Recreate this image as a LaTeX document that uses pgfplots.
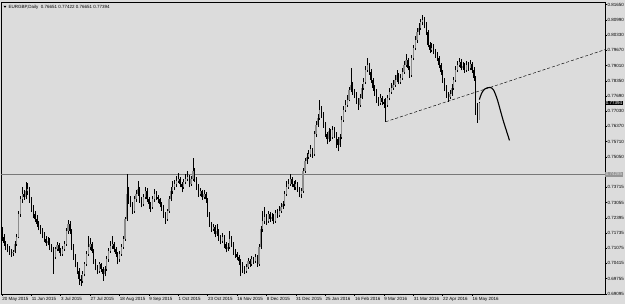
\documentclass[border=0pt]{standalone}
\usepackage{fontspec}
\setmainfont{Liberation Sans}
\usepackage{pgfplots}
\usepackage{pgfplotstable}
\pgfplotsset{compat=1.18}
\definecolor{bggray}{RGB}{220,220,220}
\definecolor{bullgray}{RGB}{140,140,140}
\definecolor{lvlgray}{RGB}{120,120,120}
\definecolor{boxgray}{RGB}{150,150,150}
\newcommand{\tinyfont}{\fontsize{4.5}{5}\selectfont}
\pgfplotstableread{
i o h l c
0 0.7170 0.7199 0.7140 0.7156
1 0.7156 0.7168 0.7118 0.7130
2 0.7130 0.7141 0.7100 0.7113
3 0.7113 0.7125 0.7090 0.7104
4 0.7104 0.7118 0.7080 0.7096
5 0.7096 0.7106 0.7070 0.7087
6 0.7087 0.7102 0.7074 0.7091
7 0.7091 0.7138 0.7085 0.7126
8 0.7126 0.7170 0.7118 0.7156
9 0.7156 0.7268 0.7150 0.7256
10 0.7256 0.7335 0.7245 0.7320
11 0.7320 0.7372 0.7305 0.7342
12 0.7342 0.7360 0.7318 0.7329
13 0.7329 0.7394 0.7320 0.7355
14 0.7355 0.7390 0.7340 0.7364
15 0.7364 0.7375 0.7305 0.7320
16 0.7320 0.7330 0.7265 0.7277
17 0.7277 0.7295 0.7240 0.7256
18 0.7256 0.7268 0.7222 0.7234
19 0.7234 0.7250 0.7200 0.7212
20 0.7212 0.7228 0.7185 0.7199
21 0.7199 0.7210 0.7168 0.7182
22 0.7182 0.7195 0.7150 0.7165
23 0.7165 0.7180 0.7135 0.7147
24 0.7147 0.7160 0.7118 0.7130
25 0.7130 0.7158 0.7120 0.7139
26 0.7139 0.7150 0.7100 0.7113
27 0.7113 0.7125 0.7090 0.7104
28 0.7104 0.7115 0.6996 0.7070
29 0.7070 0.7115 0.7060 0.7104
30 0.7104 0.7135 0.7095 0.7121
31 0.7121 0.7130 0.7085 0.7096
32 0.7096 0.7108 0.7072 0.7083
33 0.7083 0.7118 0.7075 0.7104
34 0.7104 0.7140 0.7095 0.7126
35 0.7126 0.7195 0.7118 0.7182
36 0.7182 0.7232 0.7170 0.7212
37 0.7212 0.7225 0.7170 0.7182
38 0.7182 0.7190 0.7100 0.7113
39 0.7113 0.7125 0.7058 0.7070
40 0.7070 0.7082 0.7025 0.7039
41 0.7039 0.7050 0.6995 0.7009
42 0.7009 0.7020 0.6950 0.6974
43 0.6974 0.6990 0.6944 0.6966
44 0.6966 0.7008 0.6955 0.6996
45 0.6996 0.7050 0.6985 0.7039
46 0.7039 0.7095 0.7030 0.7083
47 0.7083 0.7160 0.7075 0.7113
48 0.7113 0.7150 0.7100 0.7126
49 0.7126 0.7135 0.7085 0.7096
50 0.7096 0.7105 0.7040 0.7052
51 0.7052 0.7060 0.7012 0.7026
52 0.7026 0.7035 0.6995 0.7009
53 0.7009 0.7050 0.7000 0.7039
54 0.7039 0.7045 0.7005 0.7018
55 0.7018 0.7025 0.6966 0.6996
56 0.6996 0.7030 0.6985 0.7018
57 0.7018 0.7072 0.7010 0.7061
58 0.7061 0.7110 0.7050 0.7096
59 0.7096 0.7140 0.7088 0.7117
60 0.7117 0.7160 0.7105 0.7126
61 0.7126 0.7135 0.7090 0.7104
62 0.7104 0.7112 0.7070 0.7083
63 0.7083 0.7090 0.7039 0.7061
64 0.7061 0.7095 0.7050 0.7083
65 0.7083 0.7125 0.7075 0.7113
66 0.7113 0.7160 0.7105 0.7147
67 0.7147 0.7245 0.7140 0.7234
68 0.7234 0.7429 0.7225 0.7342
69 0.7342 0.7372 0.7300 0.7320
70 0.7320 0.7335 0.7285 0.7299
71 0.7299 0.7310 0.7256 0.7269
72 0.7269 0.7335 0.7262 0.7320
73 0.7320 0.7360 0.7310 0.7342
74 0.7342 0.7398 0.7335 0.7364
75 0.7364 0.7375 0.7305 0.7320
76 0.7320 0.7330 0.7285 0.7299
77 0.7299 0.7345 0.7290 0.7329
78 0.7329 0.7375 0.7320 0.7355
79 0.7355 0.7368 0.7308 0.7320
80 0.7320 0.7330 0.7280 0.7299
81 0.7299 0.7310 0.7265 0.7286
82 0.7286 0.7335 0.7278 0.7320
83 0.7320 0.7364 0.7310 0.7342
84 0.7342 0.7355 0.7315 0.7329
85 0.7329 0.7340 0.7305 0.7320
86 0.7320 0.7328 0.7285 0.7299
87 0.7299 0.7310 0.7270 0.7286
88 0.7286 0.7295 0.7240 0.7256
89 0.7256 0.7265 0.7215 0.7234
90 0.7234 0.7280 0.7228 0.7269
91 0.7269 0.7335 0.7262 0.7320
92 0.7320 0.7372 0.7312 0.7355
93 0.7355 0.7398 0.7345 0.7372
94 0.7372 0.7405 0.7360 0.7385
95 0.7385 0.7420 0.7375 0.7398
96 0.7398 0.7433 0.7390 0.7407
97 0.7407 0.7418 0.7372 0.7385
98 0.7385 0.7395 0.7350 0.7372
99 0.7372 0.7410 0.7365 0.7394
100 0.7394 0.7430 0.7385 0.7407
101 0.7407 0.7442 0.7398 0.7416
102 0.7416 0.7425 0.7372 0.7385
103 0.7385 0.7420 0.7378 0.7407
104 0.7407 0.7498 0.7400 0.7442
105 0.7442 0.7455 0.7395 0.7407
106 0.7407 0.7415 0.7360 0.7372
107 0.7372 0.7385 0.7330 0.7342
108 0.7342 0.7370 0.7335 0.7355
109 0.7355 0.7362 0.7318 0.7329
110 0.7329 0.7360 0.7320 0.7342
111 0.7342 0.7350 0.7305 0.7320
112 0.7320 0.7328 0.7245 0.7256
113 0.7256 0.7265 0.7200 0.7212
114 0.7212 0.7222 0.7178 0.7191
115 0.7191 0.7215 0.7182 0.7199
116 0.7199 0.7210 0.7155 0.7169
117 0.7169 0.7212 0.7160 0.7182
118 0.7182 0.7190 0.7140 0.7156
119 0.7156 0.7165 0.7125 0.7139
120 0.7139 0.7175 0.7130 0.7156
121 0.7156 0.7165 0.7110 0.7126
122 0.7126 0.7135 0.7090 0.7104
123 0.7104 0.7130 0.7095 0.7113
124 0.7113 0.7182 0.7105 0.7147
125 0.7147 0.7160 0.7112 0.7126
126 0.7126 0.7135 0.7080 0.7096
127 0.7096 0.7105 0.7065 0.7083
128 0.7083 0.7092 0.7055 0.7070
129 0.7070 0.7080 0.7035 0.7052
130 0.7052 0.7060 0.6987 0.7039
131 0.7039 0.7048 0.7000 0.7018
132 0.7018 0.7030 0.6995 0.7009
133 0.7009 0.7040 0.7000 0.7026
134 0.7026 0.7065 0.7018 0.7052
135 0.7052 0.7060 0.7028 0.7039
136 0.7039 0.7075 0.7030 0.7061
137 0.7061 0.7070 0.7040 0.7052
138 0.7052 0.7083 0.7045 0.7070
139 0.7070 0.7078 0.7028 0.7039
140 0.7039 0.7125 0.7030 0.7113
141 0.7113 0.7205 0.7105 0.7191
142 0.7191 0.7270 0.7180 0.7225
143 0.7225 0.7286 0.7215 0.7243
144 0.7243 0.7255 0.7210 0.7225
145 0.7225 0.7270 0.7218 0.7256
146 0.7256 0.7265 0.7222 0.7234
147 0.7234 0.7262 0.7225 0.7243
148 0.7243 0.7255 0.7212 0.7225
149 0.7225 0.7275 0.7218 0.7260
150 0.7260 0.7280 0.7240 0.7251
151 0.7251 0.7290 0.7245 0.7269
152 0.7269 0.7305 0.7260 0.7286
153 0.7286 0.7312 0.7278 0.7299
154 0.7299 0.7355 0.7290 0.7342
155 0.7342 0.7400 0.7335 0.7372
156 0.7372 0.7410 0.7365 0.7385
157 0.7385 0.7429 0.7380 0.7407
158 0.7407 0.7418 0.7372 0.7385
159 0.7385 0.7398 0.7360 0.7372
160 0.7372 0.7405 0.7362 0.7385
161 0.7385 0.7395 0.7352 0.7364
162 0.7364 0.7372 0.7330 0.7342
163 0.7342 0.7368 0.7325 0.7355
164 0.7355 0.7455 0.7348 0.7442
165 0.7442 0.7500 0.7435 0.7485
166 0.7485 0.7520 0.7475 0.7502
167 0.7502 0.7535 0.7495 0.7515
168 0.7515 0.7558 0.7505 0.7537
169 0.7537 0.7545 0.7500 0.7515
170 0.7515 0.7615 0.7508 0.7602
171 0.7602 0.7660 0.7590 0.7645
172 0.7645 0.7690 0.7635 0.7675
173 0.7675 0.7753 0.7665 0.7710
174 0.7710 0.7725 0.7675 0.7688
175 0.7688 0.7698 0.7630 0.7645
176 0.7645 0.7655 0.7590 0.7602
177 0.7602 0.7612 0.7560 0.7580
178 0.7580 0.7628 0.7570 0.7615
179 0.7615 0.7625 0.7575 0.7589
180 0.7589 0.7640 0.7580 0.7623
181 0.7623 0.7635 0.7588 0.7602
182 0.7602 0.7612 0.7545 0.7580
183 0.7580 0.7590 0.7528 0.7558
184 0.7558 0.7602 0.7548 0.7589
185 0.7589 0.7680 0.7580 0.7666
186 0.7666 0.7725 0.7655 0.7710
187 0.7710 0.7750 0.7700 0.7731
188 0.7731 0.7775 0.7720 0.7753
189 0.7753 0.7810 0.7745 0.7796
190 0.7796 0.7891 0.7785 0.7818
191 0.7818 0.7830 0.7775 0.7788
192 0.7788 0.7800 0.7760 0.7775
193 0.7775 0.7785 0.7735 0.7753
194 0.7753 0.7762 0.7710 0.7731
195 0.7731 0.7778 0.7722 0.7762
196 0.7762 0.7820 0.7755 0.7805
197 0.7805 0.7848 0.7795 0.7831
198 0.7831 0.7900 0.7822 0.7883
199 0.7883 0.7935 0.7875 0.7904
200 0.7904 0.7912 0.7860 0.7874
201 0.7874 0.7885 0.7825 0.7839
202 0.7839 0.7848 0.7792 0.7805
203 0.7805 0.7815 0.7770 0.7788
204 0.7788 0.7798 0.7740 0.7753
205 0.7753 0.7765 0.7725 0.7740
206 0.7740 0.7778 0.7730 0.7762
207 0.7762 0.7770 0.7728 0.7744
208 0.7744 0.7755 0.7718 0.7736
209 0.7736 0.7762 0.7657 0.7731
210 0.7731 0.7775 0.7722 0.7762
211 0.7762 0.7805 0.7750 0.7788
212 0.7788 0.7825 0.7778 0.7805
213 0.7805 0.7840 0.7795 0.7818
214 0.7818 0.7858 0.7810 0.7839
215 0.7839 0.7880 0.7828 0.7861
216 0.7861 0.7870 0.7820 0.7831
217 0.7831 0.7865 0.7822 0.7848
218 0.7848 0.7890 0.7840 0.7874
219 0.7874 0.7920 0.7865 0.7904
220 0.7904 0.7950 0.7895 0.7926
221 0.7926 0.7935 0.7880 0.7891
222 0.7891 0.7900 0.7848 0.7861
223 0.7861 0.7948 0.7852 0.7935
224 0.7935 0.7992 0.7925 0.7978
225 0.7978 0.8028 0.7968 0.8012
226 0.8012 0.8062 0.8000 0.8047
227 0.8047 0.8085 0.8035 0.8064
228 0.8064 0.8105 0.8055 0.8090
229 0.8090 0.8121 0.8075 0.8099
230 0.8099 0.8110 0.8062 0.8077
231 0.8077 0.8088 0.8035 0.8047
232 0.8047 0.8055 0.7980 0.7991
233 0.7991 0.8002 0.7955 0.7969
234 0.7969 0.7998 0.7960 0.7978
235 0.7978 0.7995 0.7950 0.7961
236 0.7961 0.7972 0.7935 0.7948
237 0.7948 0.7958 0.7920 0.7935
238 0.7935 0.7942 0.7890 0.7904
239 0.7904 0.7912 0.7860 0.7874
240 0.7874 0.7882 0.7825 0.7839
241 0.7839 0.7848 0.7790 0.7805
242 0.7805 0.7815 0.7762 0.7775
243 0.7775 0.7785 0.7744 0.7766
244 0.7766 0.7795 0.7755 0.7779
245 0.7779 0.7820 0.7770 0.7805
246 0.7805 0.7852 0.7795 0.7839
247 0.7839 0.7898 0.7830 0.7883
248 0.7883 0.7920 0.7872 0.7904
249 0.7904 0.7935 0.7895 0.7917
250 0.7917 0.7928 0.7880 0.7891
251 0.7891 0.7918 0.7882 0.7900
252 0.7900 0.7910 0.7870 0.7883
253 0.7883 0.7922 0.7875 0.7904
254 0.7904 0.7915 0.7878 0.7891
255 0.7891 0.7925 0.7880 0.7909
256 0.7909 0.7918 0.7870 0.7883
257 0.7883 0.7895 0.7835 0.7848
258 0.7848 0.7855 0.7688 0.7705
259 0.7705 0.7740 0.7653 0.7665
260 0.76651 0.77422 0.76651 0.77394
}\candles
\begin{document}
\begin{tikzpicture}
\useasboundingbox (-1pt,-10pt) rectangle (624pt,294pt);
\fill[bggray] (-1pt,-10pt) rectangle (624pt,294pt);
\begin{axis}[
  at={(0,0)}, anchor=south west,
  scale only axis, width=604pt, height=292pt,
  xmin=-0.5, xmax=328.4, ymin=0.6909, ymax=0.8177,
  clip=false,
  axis line style={black, line width=0.5pt},
  tick style={black, line width=0.4pt},
  major tick length=2pt, tick align=outside,
  xtick pos=bottom, ytick pos=right, yticklabel pos=right,
  xtick={0,16,...,256},
  xticklabels={20 May 2015, 11 Jun 2015, 3 Jul 2015, 27 Jul 2015, 18 Aug 2015, 9 Sep 2015, 1 Oct 2015, 23 Oct 2015, 16 Nov 2015, 8 Dec 2015, 31 Dec 2015, 25 Jan 2016, 16 Feb 2016, 9 Mar 2016, 31 Mar 2016, 22 Apr 2016, 16 May 2016},
  xticklabel style={anchor=north west, font=\tinyfont, inner sep=0pt, yshift=-1.5pt, xshift=0.3pt},
  ytick={0.69095,0.69756,0.70417,0.71078,0.71739,0.72400,0.73061,0.73722,0.74383,0.75044,0.75705,0.76366,0.77027,0.77688,0.78349,0.79010,0.79671,0.80332,0.80993,0.81654},
  yticklabels={0.69095,0.69755,0.70415,0.71075,0.71735,0.72395,0.73055,0.73715,{},0.75050,0.75710,0.76370,0.77030,0.77690,0.78350,0.79010,0.79670,0.80330,0.80990,0.81650},
  yticklabel style={anchor=west, font=\tinyfont, inner sep=0pt, xshift=0.5pt},
  /pgf/number format/assume math mode=true,
]
% level line
\addplot[lvlgray, line width=0.5pt, mark=none] coordinates {(-0.5,0.74285) (328.4,0.74285)};
% wicks
\addplot[draw=none, mark=none, error bars/.cd, y dir=plus, y explicit, error mark=none,
  error bar style={draw=black, line width=0.5pt}]
  table[x=i, y=l, y error expr=\thisrow{h}-\thisrow{l}] {\candles};
% bull bodies (zero length where the bar falls)
\addplot[draw=none, mark=none, error bars/.cd, y dir=plus, y explicit, error mark=none,
  error bar style={draw=bullgray, line width=1.2pt, line cap=butt}]
  table[x=i, y=o, y error expr={max(\thisrow{c}-\thisrow{o},0)}] {\candles};
% bear bodies (zero length where the bar rises)
\addplot[draw=none, mark=none, error bars/.cd, y dir=plus, y explicit, error mark=none,
  error bar style={draw=black, line width=1.2pt, line cap=butt}]
  table[x=i, y=c, y error expr={max(\thisrow{o}-\thisrow{c},0)}] {\candles};
% trend line
\addplot[black, mark=none, line width=0.45pt, dash pattern=on 3pt off 2pt] coordinates {(209,0.7657) (328.4,0.7970)};
% projected path
\addplot[black, mark=none, line width=1.1pt, smooth, tension=0.55] coordinates {
  (260.0,0.7753) (261.3,0.7782) (263.1,0.7800) (265.8,0.7806) (267.6,0.7796)
  (269.5,0.7760) (271.3,0.7710) (273.1,0.7659) (276.4,0.7576)};
% price boxes
\node[fill=boxgray, text=bggray, anchor=west, inner sep=0.6pt, font=\tinyfont] at (axis cs:328.4,0.74285) {0.74285};
\node[fill=black, text=white, anchor=west, inner sep=0.6pt, font=\tinyfont] at (axis cs:328.4,0.77394) {0.77394};
% header
\fill[black] (rel axis cs:0,1) ++(2.5pt,-3.8pt) -- ++(3pt,0pt) -- ++(-1.5pt,-2pt) -- cycle;
\node[anchor=north west, inner sep=0pt, font=\tinyfont] at (rel axis cs:0,1) [xshift=7.5pt, yshift=-3pt] {EURGBP,Daily\ \ 0.76651 0.77422 0.76651 0.77394};
\end{axis}
\end{tikzpicture}
\end{document}
